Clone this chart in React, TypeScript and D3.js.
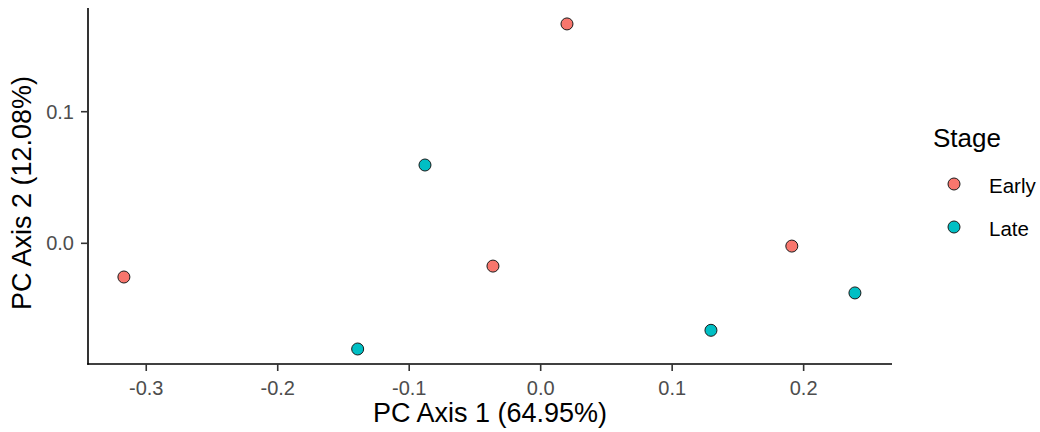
import * as d3 from 'd3';

// PCA scores
const earlyX = [-0.317, 0.02, -0.0363, 0.191];
const earlyY = [-0.0256, 0.1667, -0.0173, -0.0021];
const lateX = [-0.088, -0.1392, 0.1295, 0.239];
const lateY = [0.0595, -0.0803, -0.0661, -0.0377];

const stages = ['Early', 'Late'];
const stageColors = ['#F8766D', '#00BFC4'];

const xTicks = [-0.3, -0.2, -0.1, 0.0, 0.1, 0.2];
const yTicks = [0.0, 0.1];

const xTitle = 'PC Axis 1 (64.95%)';
const yTitle = 'PC Axis 2 (12.08%)';
const legendTitle = 'Stage';

const W = 1040;
const H = 432;
const panel = { left: 88, right: 892, top: 8, bottom: 364 };
const font = '"Liberation Sans", Arial, sans-serif';

const App = () => {
  const x = d3.scaleLinear().domain([-0.3443, 0.2672]).range([panel.left, panel.right]);
  const y = d3.scaleLinear().domain([-0.0917, 0.1788]).range([panel.bottom, panel.top]);
  const color = d3.scaleOrdinal<string, string>().domain(stages).range(stageColors);
  const fmt = (v: number) => v.toFixed(1);

  const points = [
    ...earlyX.map((v, i) => ({ x: v, y: earlyY[i], stage: 'Early' })),
    ...lateX.map((v, i) => ({ x: v, y: lateY[i], stage: 'Late' })),
  ];

  return (
    <svg
      width={W}
      height={H}
      style={{ position: 'absolute', left: 0, top: 0, background: '#fff' }}
      fontFamily={font}
    >
      {/* points */}
      {points.map((d, i) => (
        <circle
          key={i}
          cx={x(d.x)}
          cy={y(d.y)}
          r={6}
          fill={color(d.stage)}
          stroke="#1a1a1a"
          strokeWidth={1}
        />
      ))}

      {/* axis lines */}
      <line x1={panel.left} x2={panel.left} y1={panel.top} y2={panel.bottom + 0.8} stroke="#000" strokeWidth={1.6} />
      <line x1={panel.left - 0.8} x2={panel.right} y1={panel.bottom} y2={panel.bottom} stroke="#000" strokeWidth={1.6} />

      {/* x ticks */}
      {xTicks.map(t => (
        <g key={t} transform={`translate(${x(t)},${panel.bottom})`}>
          <line y1={0} y2={7} stroke="#333" strokeWidth={1.6} />
          <text y={30.5} textAnchor="middle" fontSize={20} fill="#4D4D4D">
            {fmt(t)}
          </text>
        </g>
      ))}

      {/* y ticks */}
      {yTicks.map(t => (
        <g key={t} transform={`translate(${panel.left},${y(t)})`}>
          <line x1={0} x2={-7} stroke="#333" strokeWidth={1.6} />
          <text x={-14} dy="0.35em" textAnchor="end" fontSize={20} fill="#4D4D4D">
            {fmt(t)}
          </text>
        </g>
      ))}

      {/* axis titles */}
      <text x={(panel.left + panel.right) / 2} y={422} textAnchor="middle" fontSize={27} fill="#000">
        {xTitle}
      </text>
      <text
        transform={`translate(31,${(panel.top + panel.bottom) / 2 + 7}) rotate(-90)`}
        textAnchor="middle"
        fontSize={27}
        fill="#000"
      >
        {yTitle}
      </text>

      {/* legend */}
      <text x={933} y={147} fontSize={26} fill="#000">
        {legendTitle}
      </text>
      {stages.map((s, i) => (
        <g key={s} transform={`translate(954,${184 + i * 43})`}>
          <circle r={6} fill={color(s)} stroke="#1a1a1a" strokeWidth={1} />
          <text x={35} y={8.5} fontSize={20.5} fill="#000">
            {s}
          </text>
        </g>
      ))}
    </svg>
  );
};

export default App;
